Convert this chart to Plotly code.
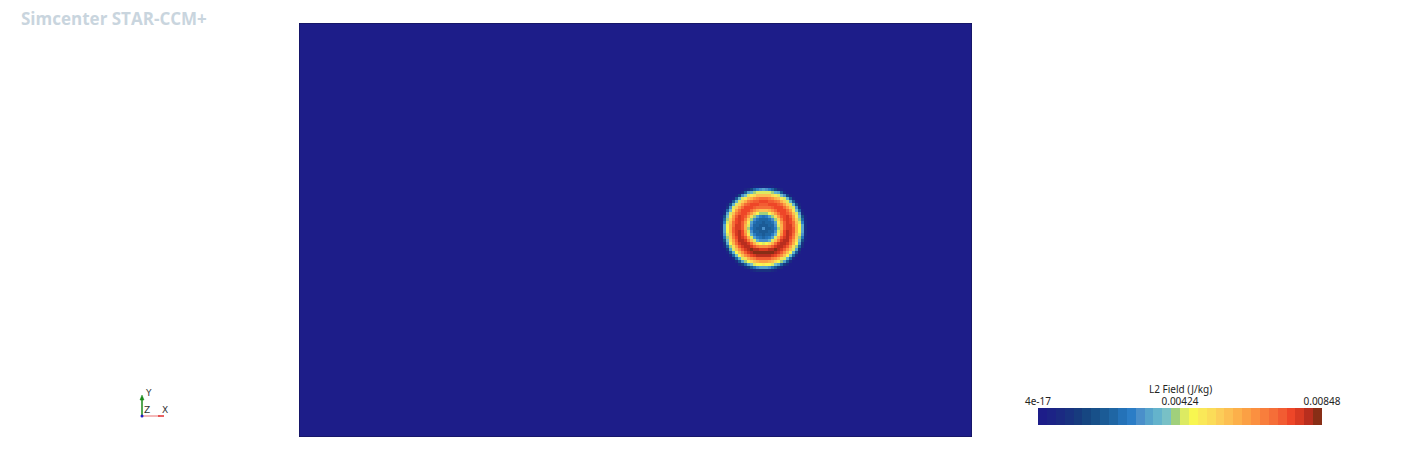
import numpy as np
import plotly.graph_objects as go

# ---------------- data ----------------
grid_nx, grid_ny = 224, 138            # mesh cells of the rectangular domain
ring_center = (154.5, 69.5)            # cell coordinates of the ring centre
profile_r = [0, 1, 2, 3, 4, 5, 6, 7, 8, 9, 10, 11, 12, 13, 14, 15]
profile_top = [0.0031, 0.0020, 0.0021, 0.0022, 0.0026, 0.0040, 0.0056, 0.0069,
               0.0074, 0.0075, 0.0070, 0.0058, 0.0045, 0.0032, 0.0004, 0.0]
profile_bottom = [0.0031, 0.0020, 0.0021, 0.0023, 0.0030, 0.0044, 0.0064, 0.0079,
                  0.0084, 0.0082, 0.0074, 0.0062, 0.0048, 0.0034, 0.0010, 0.0]
field_min, field_mid, field_max = 4e-17, 0.00424, 0.00848
tick_values = [0.0, 0.00424, 0.00848]
tick_labels = ["4e-17", "0.00424", "0.00848"]
bar_title = "L2 Field (J/kg)"
band_colors = [
    "#1d1d89", "#1c2386", "#1b2a82", "#193280", "#173b7e", "#164681", "#185089", "#1b5b96",
    "#1f66a4", "#2472b8", "#2b7dc6", "#4a8fca", "#56a3cb", "#64b3cc", "#78c0c6", "#a0d07c",
    "#dcea62", "#f8f650", "#fae858", "#fbdc58", "#fccd58", "#fcbf52", "#fcb04a", "#fba044",
    "#fb9040", "#f87e3c", "#f56e38", "#f25c32", "#ee4628", "#d83a22", "#b82e1e", "#882e16",
]

# ---------------- field ----------------
xs = np.arange(grid_nx) + 0.5
ys = np.arange(grid_ny) + 0.5
X, Y = np.meshgrid(xs, ys)
dx = X - ring_center[0]
dy = Y - ring_center[1]
r = np.hypot(dx, dy)
s = np.where(r > 0, dy / np.maximum(r, 1e-9), 0.0)
top = np.interp(r, profile_r, profile_top, right=0.0)
bot = np.interp(r, profile_r, profile_bottom, right=0.0)
z = top * (1 + s) / 2 + bot * (1 - s) / 2
z = np.maximum(z, field_min)

nb = len(band_colors)
colorscale = []
for i, c in enumerate(band_colors):
    colorscale.append([i / nb, c])
    colorscale.append([(i + 1) / nb, c])

W, H = 1423, 462
def px(x):
    return x / W
def py(y):
    return 1 - y / H

fig = go.Figure()
fig.add_trace(go.Heatmap(
    x=xs, y=ys, z=z, zmin=0, zmax=field_max, colorscale=colorscale,
    showscale=False, zsmooth=False, xaxis="x", yaxis="y", hoverinfo="skip"))

band_edges = np.linspace(0, field_max, nb + 1)
band_centers = (band_edges[:-1] + band_edges[1:]) / 2
fig.add_trace(go.Heatmap(
    x=band_centers, y=[0], z=[band_centers], zmin=0, zmax=field_max,
    colorscale=colorscale, showscale=False, xaxis="x2", yaxis="y2", hoverinfo="skip"))

fig.update_layout(
    width=W, height=H, margin=dict(l=0, r=0, t=0, b=0, pad=0, autoexpand=False),
    paper_bgcolor="white", plot_bgcolor="white", showlegend=False,
    xaxis=dict(domain=[px(299), px(972)], range=[0, grid_nx], visible=False,
               fixedrange=True, automargin=False),
    yaxis=dict(domain=[py(437), py(23)], range=[0, grid_ny], visible=False,
               fixedrange=True, automargin=False),
    xaxis2=dict(domain=[px(1038), px(1322)], range=[0, field_max], side="top",
                anchor="y2", tickvals=tick_values, ticktext=tick_labels, ticks="",
                showline=False, showgrid=False, zeroline=False, automargin=False,
                fixedrange=True,
                tickfont=dict(family="Noto Sans", size=10, color="#222222")),
    yaxis2=dict(domain=[py(425), py(408)], range=[-0.5, 0.5], visible=False,
                anchor="x2", automargin=False, fixedrange=True),
    font=dict(family="Noto Sans"),
)

fig.add_shape(type="rect", xref="x", yref="y", x0=0, x1=grid_nx, y0=0, y1=grid_ny,
              line=dict(color="#10104a", width=1))

fig.add_annotation(x=px(19), y=py(19), xref="paper", yref="paper", xanchor="left",
                   yanchor="middle", showarrow=False,
                   text="<b>Simcenter STAR-CCM+</b>",
                   font=dict(family="Open Sans", size=17, color="#c9d5de"))
fig.add_annotation(x=px(1180), y=py(389), xref="paper", yref="paper", xanchor="center",
                   yanchor="middle", showarrow=False, text=bar_title,
                   font=dict(family="Noto Sans", size=10, color="#222222"))

# axis triad
ox, oy = 142, 416
fig.add_shape(type="line", xref="paper", yref="paper", x0=px(ox), y0=py(oy), x1=px(ox), y1=py(398),
              line=dict(color="#1a8a1a", width=1.5))
fig.add_shape(type="path", xref="paper", yref="paper",
              path=f"M {px(ox-2)} {py(400)} L {px(ox)} {py(395)} L {px(ox+2)} {py(400)} Z",
              fillcolor="#1a8a1a", line=dict(color="#1a8a1a", width=0.5))
fig.add_shape(type="line", xref="paper", yref="paper", x0=px(ox), y0=py(oy), x1=px(160), y1=py(oy),
              line=dict(color="#f0a0a0", width=1.5))
fig.add_shape(type="line", xref="paper", yref="paper", x0=px(158), y0=py(oy), x1=px(164), y1=py(oy),
              line=dict(color="#e03030", width=1.5))
fig.add_shape(type="circle", xref="paper", yref="paper", x0=px(ox-1.5), y0=py(oy-1.5),
              x1=px(ox+1.5), y1=py(oy+1.5), fillcolor="#2020c0", line=dict(width=0))
for label, lx, ly in [("Y", 148, 393), ("Z", 147, 410), ("X", 165, 410)]:
    fig.add_annotation(x=px(lx), y=py(ly), xref="paper", yref="paper", showarrow=False,
                       xanchor="center", yanchor="middle", text=label,
                       font=dict(family="DejaVu Sans", size=9, color="#333333"))

fig.write_html("out.html", config={"displayModeBar": False},
               post_script="document.body.style.margin='0';document.body.style.overflow='hidden';")
